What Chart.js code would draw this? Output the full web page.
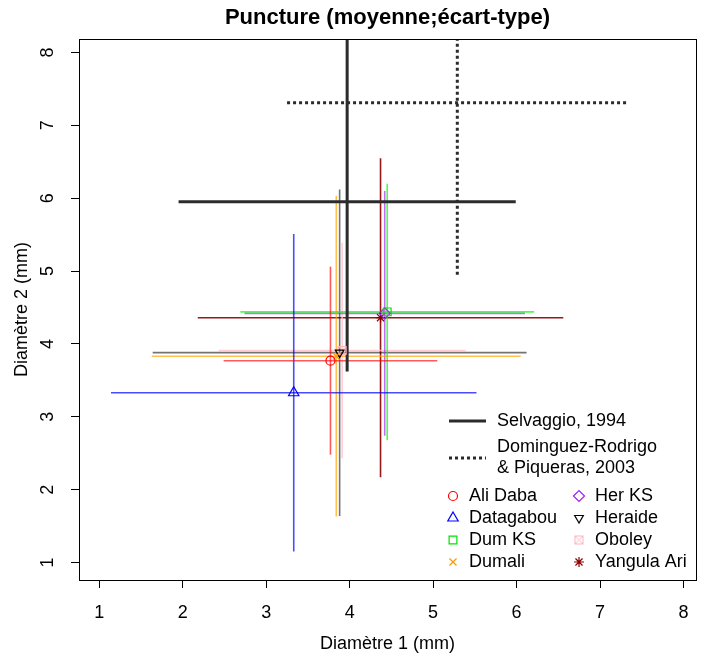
<!DOCTYPE html>
<html>
<head>
<meta charset="utf-8">
<script src="https://cdn.jsdelivr.net/npm/chart.js@4.4.0/dist/chart.umd.min.js"></script>
<style>
  html, body { margin: 0; padding: 0; background: #fff; }
</style>
</head>
<body>
<canvas id="punctureChart" width="706" height="655"></canvas>
<script>
// Puncture sizes per site: mean and standard deviation (mm)
const sites = ["Ali Daba", "Datagabou", "Dum KS", "Dumali", "Her KS", "Heraide", "Oboley", "Yangula Ari"];
const meanD1 = [3.77, 3.33, 4.45, 3.84, 4.42, 3.88, 3.91, 4.37];
const sdD1 = [1.28, 2.19, 1.76, 2.21, 1.68, 2.24, 1.48, 2.19];
const meanD2 = [3.77, 3.33, 4.44, 3.83, 4.42, 3.88, 3.91, 4.36];
const sdD2 = [1.29, 2.18, 1.76, 2.20, 1.68, 2.24, 1.48, 2.19];

// Published reference values
const refs = ["Selvaggio, 1994", "Dominguez-Rodrigo & Piqueras, 2003"];
const refMeanD1 = [3.97, 5.29];
const refSdD1 = [2.02, 2.04];
const refMeanD2 = [5.95, 7.31];
const refSdD2 = [2.33, 2.36];

const xTicks = [1, 2, 3, 4, 5, 6, 7, 8];
const yTicks = [1, 2, 3, 4, 5, 6, 7, 8];

const FONT = "'Liberation Sans', Arial, Helvetica, sans-serif";
const TITLE = "Puncture (moyenne;écart-type)";

// Marker colours / line colours per site
const markerColors = ["#ff0000", "#0000ff", "#00e000", "#ff9900", "#a020f0", "#000000", "#ffb6c1", "#8b0000"];
const lineColors = [
  "rgba(255,0,0,0.65)", "rgba(0,0,255,0.7)", "rgba(0,255,0,0.7)", "rgba(255,165,0,0.7)",
  "rgba(160,32,240,0.65)", "rgba(0,0,0,0.55)", "rgba(255,192,203,0.8)", "rgba(139,0,0,0.9)"
];

// Boxed cross marker (like R pch 7), drawn once on a small canvas
function boxedCross(color) {
  const c = document.createElement("canvas");
  c.width = 11; c.height = 11;
  const g = c.getContext("2d");
  g.strokeStyle = color;
  g.lineWidth = 1;
  g.strokeRect(1.5, 1.5, 8, 8);
  g.beginPath();
  g.moveTo(1.5, 1.5); g.lineTo(9.5, 9.5);
  g.moveTo(9.5, 1.5); g.lineTo(1.5, 9.5);
  g.stroke();
  return c;
}

const markerStyles = [
  { pointStyle: "circle", rotation: 0, radius: 4.5 },
  { pointStyle: "triangle", rotation: 0, radius: 6 },
  { pointStyle: "rect", rotation: 0, radius: 5.5 },
  { pointStyle: "crossRot", rotation: 0, radius: 5 },
  { pointStyle: "rectRot", rotation: 0, radius: 5.5 },
  { pointStyle: "triangle", rotation: 180, radius: 5 },
  { pointStyle: boxedCross(markerColors[6]), rotation: 0, radius: 5 },
  { pointStyle: "star", rotation: 0, radius: 5 }
];

// Build datasets: two error lines + one marker per site
const datasets = [];
sites.forEach((name, i) => {
  datasets.push({
    label: name + " d1",
    data: [{ x: meanD1[i] - sdD1[i], y: meanD2[i] }, { x: meanD1[i] + sdD1[i], y: meanD2[i] }],
    showLine: true, borderColor: lineColors[i], borderWidth: 1.6, pointRadius: 0, order: 2, clip: 0
  });
  datasets.push({
    label: name + " d2",
    data: [{ x: meanD1[i], y: meanD2[i] - sdD2[i] }, { x: meanD1[i], y: meanD2[i] + sdD2[i] }],
    showLine: true, borderColor: lineColors[i], borderWidth: 1.6, pointRadius: 0, order: 2, clip: 0
  });
  datasets.push({
    label: name,
    data: [{ x: meanD1[i], y: meanD2[i] }],
    pointStyle: markerStyles[i].pointStyle,
    rotation: markerStyles[i].rotation,
    pointRadius: markerStyles[i].radius,
    borderColor: markerColors[i],
    backgroundColor: "rgba(0,0,0,0)",
    pointBorderWidth: 1.2,
    order: 0
  });
});

refs.forEach((name, i) => {
  const dash = i === 1 ? [3, 3] : [];
  datasets.push({
    label: name + " d1",
    data: [{ x: refMeanD1[i] - refSdD1[i], y: refMeanD2[i] }, { x: refMeanD1[i] + refSdD1[i], y: refMeanD2[i] }],
    showLine: true, borderColor: "#2b2b2b", borderWidth: 3, borderDash: dash, pointRadius: 0, order: 1, clip: 0
  });
  datasets.push({
    label: name + " d2",
    data: [{ x: refMeanD1[i], y: refMeanD2[i] - refSdD2[i] }, { x: refMeanD1[i], y: refMeanD2[i] + refSdD2[i] }],
    showLine: true, borderColor: "#2b2b2b", borderWidth: 3, borderDash: dash, pointRadius: 0, order: 1, clip: 0
  });
});

// Plot frame, title over the plot region, R-like legend inside the plot
const frameAndLegend = {
  id: "frameAndLegend",
  afterDatasetsDraw(chart) {
    const { ctx, chartArea: a } = chart;
    ctx.save();
    ctx.strokeStyle = "#000";
    ctx.lineWidth = 1;
    ctx.strokeRect(Math.round(a.left) + 0.5, Math.round(a.top) + 0.5,
      Math.round(a.right - a.left), Math.round(a.bottom - a.top));

    // title centred on the plot region
    ctx.fillStyle = "#000";
    ctx.textAlign = "center";
    ctx.textBaseline = "middle";
    ctx.font = "bold 22px " + FONT;
    ctx.fillText(TITLE, (a.left + a.right) / 2, 18);

    ctx.font = "18px " + FONT;
    ctx.textAlign = "left";

    // reference lines
    ctx.strokeStyle = "#2b2b2b";
    ctx.lineWidth = 3;
    ctx.beginPath(); ctx.moveTo(449, 421); ctx.lineTo(486, 421); ctx.stroke();
    ctx.fillText(refs[0], 497, 421);
    ctx.setLineDash([3, 3]);
    ctx.beginPath(); ctx.moveTo(449, 458); ctx.lineTo(486, 458); ctx.stroke();
    ctx.setLineDash([]);
    ctx.fillText("Dominguez-Rodrigo", 497, 447);
    ctx.fillText("& Piqueras, 2003", 497, 468);

    // site markers, two columns
    const rowY = [496, 518, 540, 562];
    sites.forEach((name, i) => {
      const col = Math.floor(i / 4);
      const mx = col === 0 ? 453 : 579;
      const tx = col === 0 ? 469 : 595;
      const y = rowY[i % 4];
      ctx.strokeStyle = markerColors[i];
      ctx.fillStyle = "rgba(0,0,0,0)";
      ctx.lineWidth = 1.2;
      Chart.helpers.drawPoint(ctx, {
        pointStyle: markerStyles[i].pointStyle,
        rotation: markerStyles[i].rotation,
        radius: markerStyles[i].radius,
        borderWidth: 1.2
      }, mx, y);
      ctx.fillStyle = "#000";
      ctx.fillText(name, tx, y);
    });
    ctx.restore();
  }
};

new Chart(document.getElementById("punctureChart"), {
  type: "scatter",
  data: { datasets },
  options: {
    responsive: false,
    animation: false,
    events: [],
    layout: { padding: { top: 39, right: 10, bottom: 0, left: 0 } },
    plugins: {
      legend: { display: false },
      tooltip: { enabled: false },
      title: { display: false }
    },
    scales: {
      x: {
        type: "linear",
        min: 0.757,
        max: 8.15,
        afterBuildTicks: s => { s.ticks = xTicks.map(v => ({ value: v })); },
        afterFit: s => { s.height = 75; },
        ticks: { color: "#000", font: { family: FONT, size: 18 }, padding: 14, autoSkip: false },
        grid: { display: true, drawOnChartArea: false, drawTicks: true, tickLength: 8, color: "#000" },
        border: { display: false },
        title: {
          display: true, text: "Diamètre 1 (mm)", color: "#000",
          font: { family: FONT, size: 18 }, padding: { top: 0, bottom: 0 }
        }
      },
      y: {
        type: "linear",
        min: 0.76,
        max: 8.185,
        afterBuildTicks: s => { s.ticks = yTicks.map(v => ({ value: v })); },
        afterFit: s => { s.width = 79; },
        ticks: {
          color: "#000", font: { family: FONT, size: 18 }, padding: 18,
          minRotation: 90, maxRotation: 90, crossAlign: "center", autoSkip: false
        },
        grid: { display: true, drawOnChartArea: false, drawTicks: true, tickLength: 8, color: "#000" },
        border: { display: false },
        title: {
          display: true, text: "Diamètre 2 (mm)", color: "#000",
          font: { family: FONT, size: 18 }, padding: { top: 11, bottom: 0 }
        }
      }
    }
  },
  plugins: [frameAndLegend]
});
</script>
</body>
</html>
